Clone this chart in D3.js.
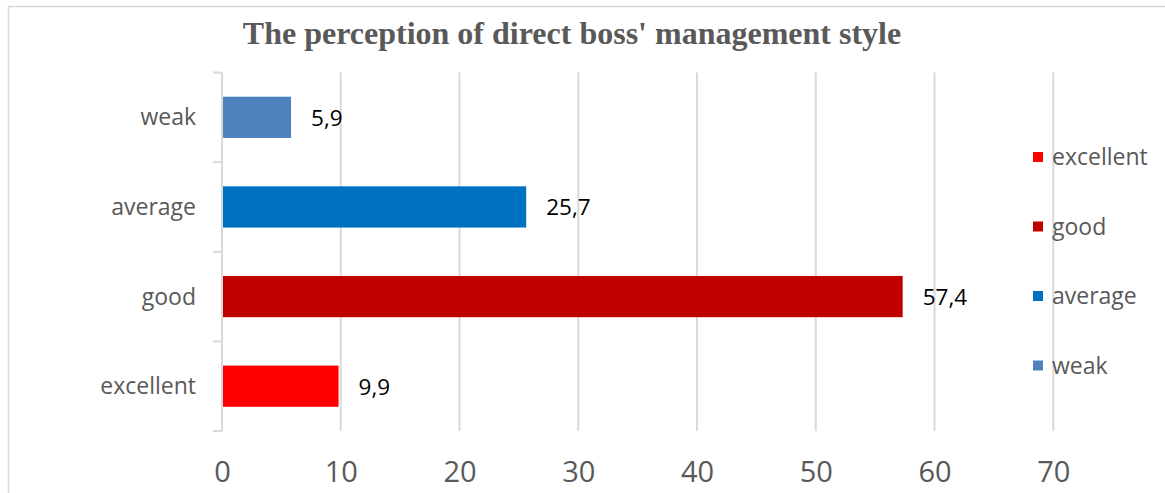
<!DOCTYPE html>
<html>
<head>
<meta charset="utf-8">
<script src="https://cdn.jsdelivr.net/npm/d3@7"></script>
<style>
  body { margin: 0; background: #fff; }
  svg { display: block; }
</style>
</head>
<body>
<div id="chart"></div>
<script>
// chart data
let categories = ['excellent', 'good', 'average', 'weak'];
let values = [9.9, 57.4, 25.7, 5.9];
let colors = ['#ff0000', '#c00000', '#0070c0', '#4f81bd'];
let xTicks = [0, 10, 20, 30, 40, 50, 60, 70];
let title = "The perception of direct boss' management style";

let width = 1165;
let height = 493;
let margin = {top: 72.5, left: 222, right: 1053.3, bottom: 431};

let svg = d3.select('#chart').append('svg')
    .attr('width', width)
    .attr('height', height);

// chart area border
svg.append('rect')
    .attr('x', 8.5).attr('y', 6.5)
    .attr('width', width + 10).attr('height', height + 10)
    .attr('fill', 'none')
    .attr('stroke', '#d9d9d9')
    .attr('stroke-width', 1.5);

// title
svg.append('text')
    .attr('x', 572).attr('y', 44)
    .attr('text-anchor', 'middle')
    .style('font-family', '"Liberation Serif", "Times New Roman", serif')
    .style('font-weight', 'bold')
    .style('font-size', '32px')
    .style('fill', '#595959')
    .text(title);

// scales
let x = d3.scaleLinear().domain([0, 70]).range([margin.left, margin.right]);
let y = d3.scaleBand()
    .domain(categories.slice().reverse())
    .range([margin.top, margin.bottom])
    .padding(0);

// vertical gridlines
svg.append('g')
  .selectAll('line')
  .data(xTicks.slice(1))
  .enter().append('line')
    .attr('x1', d => x(d)).attr('x2', d => x(d))
    .attr('y1', margin.top).attr('y2', margin.bottom)
    .attr('stroke', '#d9d9d9')
    .attr('stroke-width', 2);

// category axis line with boundary ticks
svg.append('line')
    .attr('x1', x(0)).attr('x2', x(0))
    .attr('y1', margin.top).attr('y2', margin.bottom)
    .attr('stroke', '#d9d9d9')
    .attr('stroke-width', 2);

let bounds = categories.map(c => y(c)).concat([margin.bottom]);
svg.append('g')
  .selectAll('line')
  .data(bounds)
  .enter().append('line')
    .attr('x1', x(0) - 9).attr('x2', x(0))
    .attr('y1', d => d).attr('y2', d => d)
    .attr('stroke', '#d9d9d9')
    .attr('stroke-width', 2);

// category labels
svg.append('g')
  .selectAll('text')
  .data(categories)
  .enter().append('text')
    .attr('x', 196)
    .attr('y', d => y(d) + y.bandwidth() / 2 + 8)
    .attr('text-anchor', 'end')
    .style('font-family', '"Open Sans", sans-serif')
    .style('font-size', '23px')
    .style('fill', '#595959')
    .text(d => d);

// bars
let barH = y.bandwidth() * 0.46;
svg.append('g')
  .selectAll('rect')
  .data(categories)
  .enter().append('rect')
    .attr('x', x(0) + 1)
    .attr('y', d => y(d) + (y.bandwidth() - barH) / 2)
    .attr('width', (d, i) => x(values[i]) - x(0) - 2)
    .attr('height', barH)
    .attr('fill', (d, i) => colors[i]);

// data labels
svg.append('g')
  .selectAll('text')
  .data(categories)
  .enter().append('text')
    .attr('x', (d, i) => x(values[i]) + 19)
    .attr('y', (d, i) => y(d) + y.bandwidth() / 2 + 8.5)
    .style('font-family', '"Open Sans", sans-serif')
    .style('font-size', '22.5px')
    .style('fill', '#000')
    .text((d, i) => values[i].toFixed(1).replace('.', ','));

// x axis labels
let xAxis = svg.append('g')
    .attr('transform', 'translate(0,' + margin.bottom + ')')
    .call(d3.axisBottom(x).tickValues(xTicks).tickSize(0).tickPadding(0));
xAxis.select('.domain').remove();
xAxis.selectAll('text')
    .attr('dy', null)
    .attr('y', 51)
    .style('font-family', '"Open Sans", sans-serif')
    .style('font-size', '29px')
    .style('fill', '#595959');

// legend
let legend = svg.append('g')
  .selectAll('g')
  .data(categories)
  .enter().append('g')
    .attr('transform', (d, i) => 'translate(1033,' + (157 + i * 69.5) + ')');
legend.append('rect')
    .attr('x', 0).attr('y', -5)
    .attr('width', 10).attr('height', 10)
    .attr('fill', (d, i) => colors[i]);
legend.append('text')
    .attr('x', 19).attr('y', 8)
    .style('font-family', '"Open Sans", sans-serif')
    .style('font-size', '23px')
    .style('fill', '#595959')
    .text(d => d);
</script>
</body>
</html>
